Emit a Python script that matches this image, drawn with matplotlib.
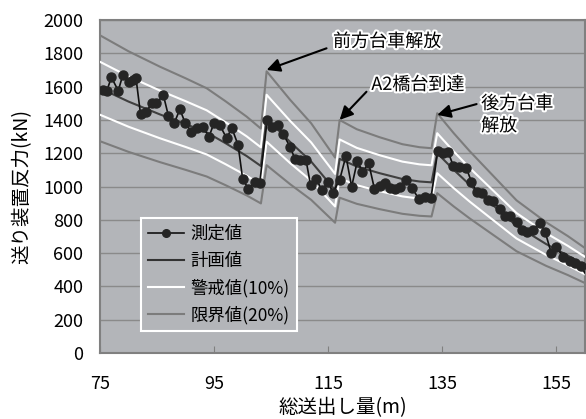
import matplotlib
matplotlib.use("Agg")
import matplotlib.pyplot as plt
import matplotlib.patheffects as pe
import numpy as np

plt.rcParams['font.family'] = ['Noto Sans CJK JP', 'DejaVu Sans']

# measured values (送り装置反力, kN)
mx = [75.6, 76.2, 77.0, 78.2, 79.0, 80.1, 80.8, 81.3, 82.1, 83.1, 84.1, 84.9,
      86.1, 87.0, 88.0, 89.0, 89.9, 91.0, 92.0, 93.1, 94.1, 95.0, 96.0, 97.2,
      98.1, 99.2, 100.0, 101.0, 102.1, 103.0, 104.3, 105.1, 106.2, 107.1, 108.3,
      109.2, 110.0, 111.1, 111.9, 112.9, 113.9, 115.0, 115.8, 117.0, 118.1,
      119.1, 120.1, 121.0, 122.1, 123.1, 124.1, 124.9, 125.8, 126.7, 127.6,
      128.6, 129.7, 130.9, 132.0, 133.0, 134.2, 135.1, 136.0, 136.9, 138.0,
      139.2, 140.1, 141.0, 142.0, 143.0, 143.9, 145.1, 146.0, 146.8, 148.0,
      148.9, 149.8, 150.8, 152.1, 153.0, 154.1, 155.0, 156.1, 157.3, 158.3,
      159.3, 161.0]
my = [1580, 1575, 1656, 1575, 1670, 1630, 1640, 1654, 1435, 1449, 1500, 1500,
      1550, 1423, 1380, 1464, 1384, 1329, 1350, 1356, 1299, 1383, 1369, 1289,
      1352, 1249, 1046, 986, 1025, 1023, 1399, 1355, 1369, 1315, 1239,
      1163, 1160, 1160, 1009, 1043, 979, 1029, 963, 1040, 1183,
      999, 1153, 1089, 1139, 985, 1003, 1019, 989, 985, 999,
      1039, 989, 925, 939, 929, 1215, 1199, 1209, 1125, 1119,
      1110, 1029, 969, 961, 919, 912, 864, 824, 824, 789,
      739, 729, 739, 783, 729, 599, 639, 579, 554, 539,
      521, 420]

# planned values
px = [75, 80, 85.5, 90, 93.7, 97, 100.7, 103.2, 104.2, 108.3, 112, 116.2,
      117.0, 120, 124, 128, 131, 133.1, 134.1, 137, 139.8, 144, 148, 153.2,
      157, 160]
py = [1590, 1510, 1433, 1375, 1325, 1260, 1183, 1123, 1410, 1268, 1150, 978,
      1166, 1120, 1080, 1045, 1030, 1025, 1200, 1100, 1010, 884, 764, 654,
      585, 525]

warn_ratio = 0.10
limit_ratio = 0.20

xticks = [75, 95, 115, 135, 155]
yticks = list(range(0, 2001, 200))

bg = '#b3b5b9'
fig = plt.figure(figsize=(5.86, 4.19), dpi=100)
ax = fig.add_axes([100/586, 1-353/419, 485/586, 333/419])
ax.set_facecolor(bg)

pya = np.array(py)
ax.plot(px, pya*(1+limit_ratio), c='#7c7c7c', lw=1.5, zorder=2)
ax.plot(px, pya*(1-limit_ratio), c='#7c7c7c', lw=1.5, zorder=2)
ax.plot(px, pya*(1+warn_ratio), c='white', lw=1.5, zorder=3)
ax.plot(px, pya*(1-warn_ratio), c='white', lw=1.5, zorder=3)
ax.plot(px, py, c='#404040', lw=1.5, zorder=4)
ax.plot(mx, my, c='#111111', lw=1.2, marker='o', ms=6.5,
        mfc='#252525', mec='#252525', zorder=5)

# legend proxies
h1, = ax.plot([], [], c='#111111', lw=1.2, marker='o', ms=5.5, mfc='#252525', mec='#252525')
h2, = ax.plot([], [], c='#333333', lw=1.5)
h3, = ax.plot([], [], c='white', lw=1.5)
h4, = ax.plot([], [], c='#7c7c7c', lw=1.5)
leg = ax.legend([h1, h2, h3, h4], ['測定値', '計画値', '警戒値(10%)', '限界値(20%)'],
                loc='upper left', bbox_to_anchor=(0.0845, 0.405), borderaxespad=0,
                fontsize=12.5, fancybox=False, facecolor=bg, edgecolor='white',
                framealpha=1, handlelength=2.1, labelspacing=0.5,
                borderpad=0.4, handletextpad=0.35)
leg.get_frame().set_linewidth(1.5)

ax.set_xlim(75, 160)
ax.set_ylim(0, 2000)
ax.set_xticks(xticks)
ax.set_yticks(yticks)
ax.grid(axis='y', color='#8a8a8a', lw=1)
ax.set_axisbelow(True)
for s in ax.spines.values():
    s.set_color('#808080')
    s.set_linewidth(1.5)
ax.tick_params(axis='x', direction='in', length=5, color='#808080', labelsize=13, pad=16)
ax.tick_params(axis='y', length=0, labelsize=13, pad=12)
ax.set_xlabel('総送出し量(m)', fontsize=14, labelpad=3)
ax.set_ylabel('送り装置反力(kN)', fontsize=14, labelpad=8)

halo = [pe.withStroke(linewidth=3, foreground='white')]
arr = dict(arrowstyle='-|>', color='black', lw=1.5, mutation_scale=20, shrinkA=0, shrinkB=0)

ax.text(125.3, 1870, '前方台車解放', fontsize=13, ha='center', va='center', path_effects=halo)
ax.annotate('', xy=(104.2, 1700), xytext=(114.7, 1830), arrowprops=arr)

ax.text(130.7, 1610, 'A2橋台到達', fontsize=13, ha='center', va='center', path_effects=halo)
ax.annotate('', xy=(117.0, 1400), xytext=(121.7, 1569), arrowprops=arr)

ax.text(141.8, 1430, '後方台車\n解放', fontsize=13, ha='left', va='center',
        linespacing=1.3, path_effects=halo)
ax.annotate('', xy=(134.1, 1430), xytext=(141.0, 1495), arrowprops=arr)

fig.savefig('out.png', dpi=100)
